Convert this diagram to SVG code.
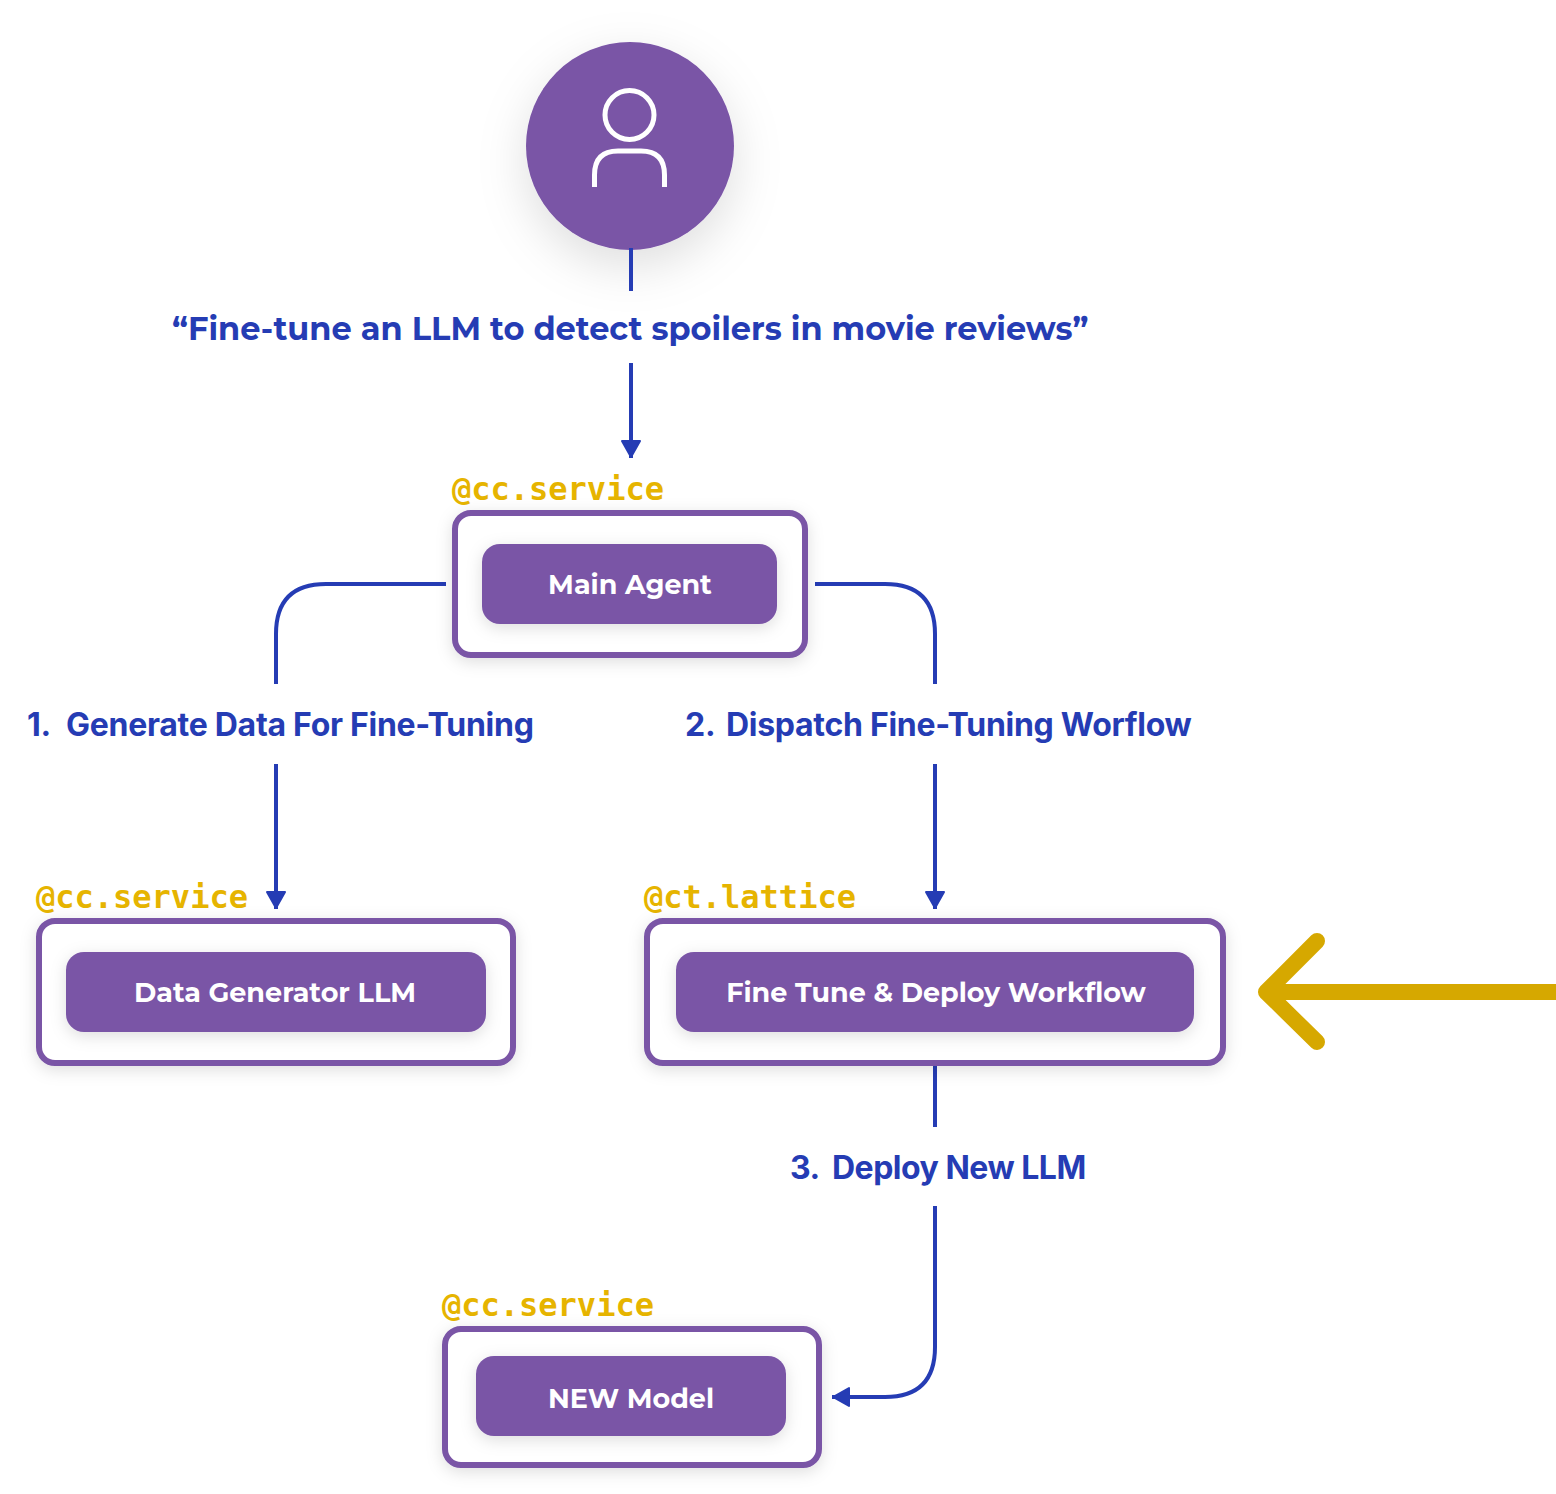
<svg xmlns="http://www.w3.org/2000/svg" width="1556" height="1494" viewBox="0 0 1556 1494">
<defs>
<filter id="sh" x="-60%" y="-60%" width="220%" height="240%"><feDropShadow dx="0" dy="16" stdDeviation="24" flood-color="#000" flood-opacity="0.13"/></filter>
<filter id="sh2" x="-15%" y="-40%" width="130%" height="190%"><feDropShadow dx="0" dy="4" stdDeviation="8" flood-color="#000" flood-opacity="0.13"/></filter>
<marker id="ah" markerUnits="userSpaceOnUse" markerWidth="24" markerHeight="24" refX="21" refY="12" orient="auto"><path d="M4 3L20 12L4 21Z" fill="#253cb4" stroke="#253cb4" stroke-width="2" stroke-linejoin="round"/></marker>
</defs>
<style>
.c{fill:none;stroke:#253cb4;stroke-width:4}
.o{fill:#fff;stroke:#7a54a6;stroke-width:6;filter:url(#sh2)}
.b{fill:#7a54a6;filter:url(#sh2)}
.d{font:700 27px Montserrat,Inter,"Liberation Sans",sans-serif;fill:#fff;text-anchor:middle}
.l{font:700 32px Inter,"Liberation Sans",sans-serif;fill:#253cb4;letter-spacing:-0.28px}
.m{font:700 32px "DejaVu Sans Mono",monospace;fill:#e6b400}
</style>
<rect width="1556" height="1494" fill="#fff"/>
<g id="user">
<circle cx="630" cy="146" r="104" fill="#7a54a6" filter="url(#sh)"/>
<circle cx="629.500" cy="115" r="24.500" fill="none" stroke="#fff" stroke-width="5"/>
<path d="M594.500 187V175Q594.500 151 618 151H641Q664.500 151 664.500 175V187" fill="none" stroke="#fff" stroke-width="5"/>
</g>
<g id="connectors">
<path class="c" d="M631 248V291"/>
<path class="c" d="M631 363V458" marker-end="url(#ah)"/>
<path class="c" d="M446 584H326Q276 584 276 634V684"/>
<path class="c" d="M276 764V909" marker-end="url(#ah)"/>
<path class="c" d="M815 584H885Q935 584 935 634V684"/>
<path class="c" d="M935 764V909" marker-end="url(#ah)"/>
<path class="c" d="M935 1064V1127"/>
<path class="c" d="M935 1206V1347Q935 1397 885 1397H832" marker-end="url(#ah)"/>
<path d="M1556 992H1266M1317 941L1266 992L1317 1042" fill="none" stroke="#d6a800" stroke-width="16" stroke-linecap="round" stroke-linejoin="round"/>
</g>
<text x="172" y="340" style="font:700 32px Montserrat,Inter,sans-serif;fill:#253cb4">“Fine-tune an LLM to detect spoilers in movie reviews”</text>
<g id="main-agent">
<text class="m" x="452" y="500">@cc.service</text>
<rect class="o" x="455" y="513" width="350" height="142" rx="16"/>
<rect class="b" x="482" y="544" width="295" height="80" rx="18"/>
<text class="d" x="630" y="594">Main Agent</text>
</g>
<text class="l" x="27" y="736">1.<tspan x="66">Generate Data For Fine-Tuning</tspan></text>
<text class="l" x="685" y="736">2.<tspan x="726">Dispatch Fine-Tuning Worflow</tspan></text>
<g id="data-generator">
<text class="m" x="36" y="908">@cc.service</text>
<rect class="o" x="39" y="921" width="474" height="142" rx="16"/>
<rect class="b" x="66" y="952" width="420" height="80" rx="18"/>
<text class="d" x="275" y="1002">Data Generator LLM</text>
</g>
<g id="fine-tune">
<text class="m" x="644" y="908">@ct.lattice</text>
<rect class="o" x="647" y="921" width="576" height="142" rx="16"/>
<rect class="b" x="676" y="952" width="518" height="80" rx="18"/>
<text class="d" x="936" y="1002">Fine Tune &amp; Deploy Workflow</text>
</g>
<text class="l" x="790" y="1179" style="letter-spacing:-0.5px">3.<tspan x="832">Deploy New LLM</tspan></text>
<g id="new-model">
<text class="m" x="442" y="1316">@cc.service</text>
<rect class="o" x="445" y="1329" width="374" height="136" rx="16"/>
<rect class="b" x="476" y="1356" width="310" height="80" rx="18"/>
<text class="d" x="631" y="1408">NEW Model</text>
</g>
</svg>
